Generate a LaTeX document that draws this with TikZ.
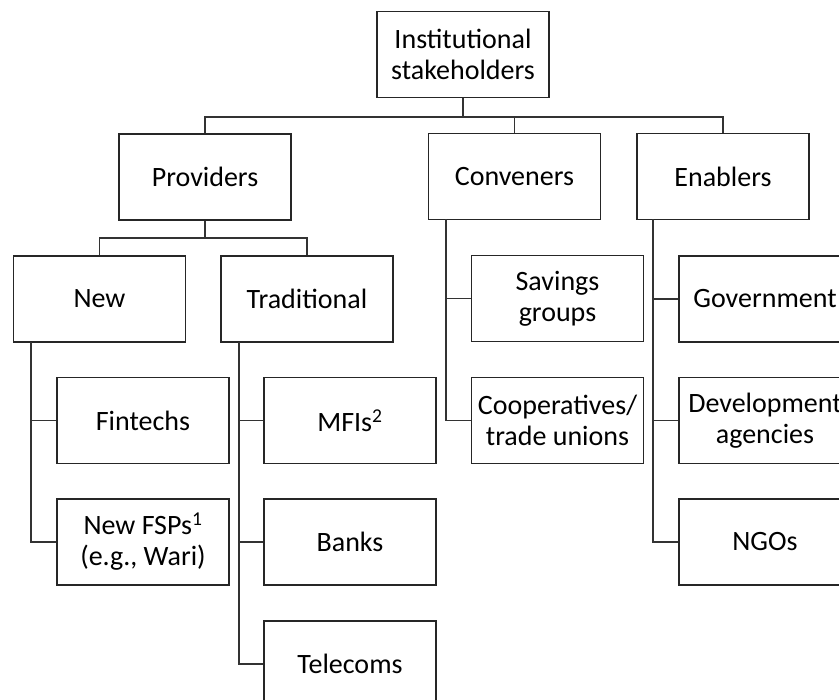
\documentclass[tikz,border=0pt]{standalone}
\usepackage{fontspec}
\setmainfont{Carlito}
\begin{document}
\begin{tikzpicture}[x=1pt,y=-1pt,
  box/.style={draw=black!85,line width=1.8pt,fill=white,minimum width=172pt,minimum height=86pt,inner sep=0pt,align=center,font=\fontsize{28}{31}\selectfont},
  conn/.style={draw=black!80,line width=1.8pt}]
\useasboundingbox (0,0) rectangle (839,700);
\clip (0,0) rectangle (839,700);
% nodes
\node[box] (top) at (463,54.5) {Institutional\\stakeholders};
\node[box] (prov) at (205,177) {Providers};
\node[box] (conv) at (514.5,176.5) {Conveners};
\node[box] (enab) at (723,176.5) {Enablers};
\node[box] (new) at (99.5,299) {New};
\node[box] (trad) at (307,299) {Traditional};
\node[box] (fin) at (143,420.5) {Fintechs};
\node[box] (fsp) at (143,542) {New FSPs\textsuperscript{1}\\(e.g., Wari)};
\node[box] (mfi) at (350,420.5) {MFIs\textsuperscript{2}};
\node[box] (bank) at (350,542) {Banks};
\node[box] (tel) at (350,664) {Telecoms};
\node[box] (sav) at (557.5,298.5) {Savings\\groups};
\node[box] (coop) at (557.5,420.5) {Cooperatives/\\trade unions};
\node[box] (gov) at (765,299) {Government};
\node[box] (dev) at (765,420.5) {Development\\agencies};
\node[box] (ngo) at (765,542) {NGOs};
% junctions
\coordinate (tb) at (463,117);
\coordinate (pb) at (205,238);
\coordinate (nt) at (31,342);
\coordinate (tt) at (239,342);
\coordinate (ct) at (446,219.5);
\coordinate (et) at (653,219.5);
% connectors
\draw[conn] (top.south) -- (tb);
\draw[conn] (prov.north) |- (tb) -| (enab.north);
\draw[conn] (conv.north) -- (conv.north |- tb);
\draw[conn] (prov.south) -- (pb);
\draw[conn] (new.north) |- (pb) -| (trad.north);
\draw[conn] (nt) |- (fsp.west);
\draw[conn] (fin.west) -- (fin.west -| nt);
\draw[conn] (tt) |- (tel.west);
\draw[conn] (mfi.west) -- (mfi.west -| tt);
\draw[conn] (bank.west) -- (bank.west -| tt);
\draw[conn] (ct) |- (coop.west);
\draw[conn] (sav.west) -- (sav.west -| ct);
\draw[conn] (et) |- (ngo.west);
\draw[conn] (gov.west) -- (gov.west -| et);
\draw[conn] (dev.west) -- (dev.west -| et);
\end{tikzpicture}
\end{document}
